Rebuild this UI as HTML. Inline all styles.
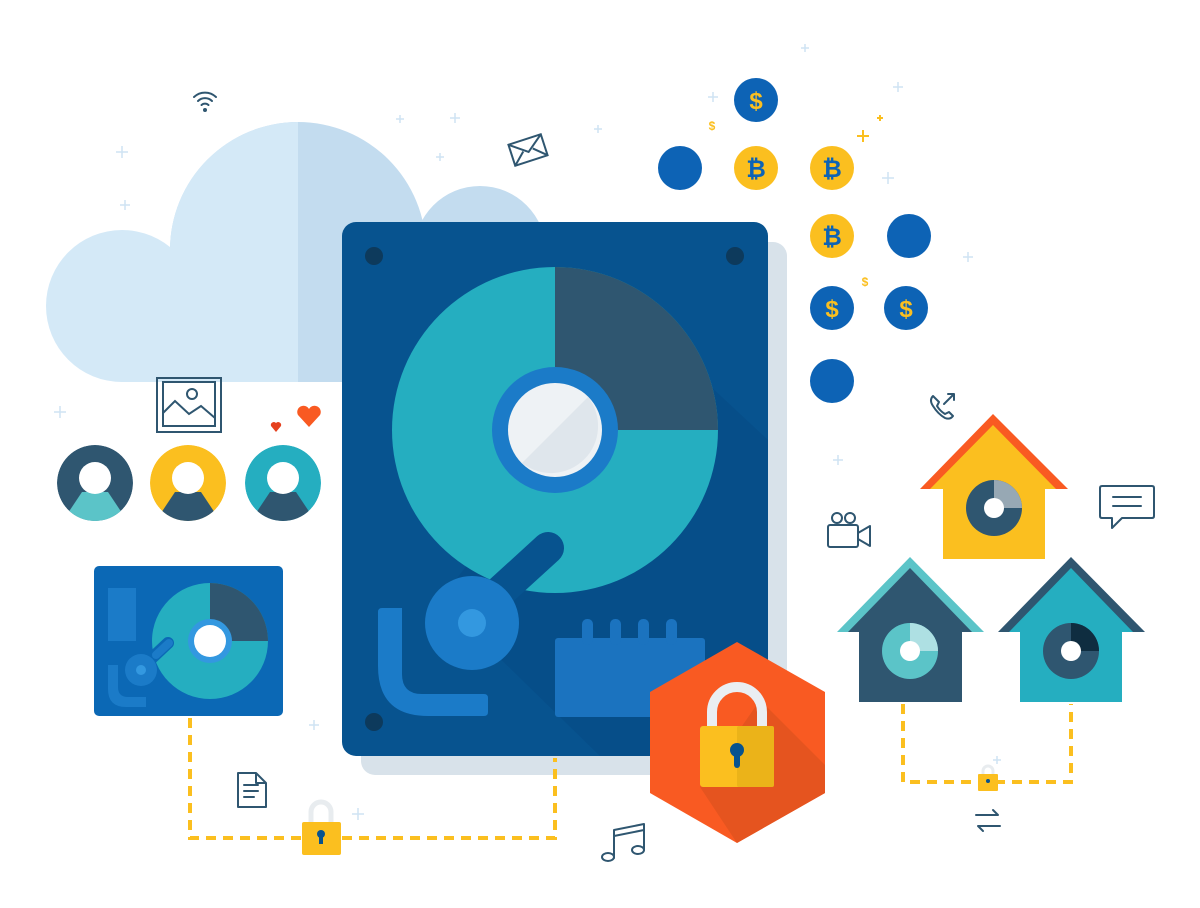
<!DOCTYPE html>
<html><head><meta charset="utf-8"><style>html,body{margin:0;padding:0;background:#fff}svg{display:block}</style></head>
<body>
<svg width="1200" height="908" viewBox="0 0 1200 908" xmlns="http://www.w3.org/2000/svg" font-family="Liberation Sans, sans-serif">
<defs>
<clipPath id="cl"><rect x="0" y="0" width="298" height="400"/></clipPath>
<clipPath id="cb"><rect x="0" y="0" width="1200" height="382"/></clipPath>
<clipPath id="a1"><circle cx="95" cy="483" r="38"/></clipPath>
<clipPath id="a2"><circle cx="188" cy="483" r="38"/></clipPath>
<clipPath id="a3"><circle cx="283" cy="483" r="38"/></clipPath>
<clipPath id="hdd"><rect x="342" y="222" width="426" height="534" rx="14"/></clipPath>
<clipPath id="hex"><polygon points="737,642 825,692 825,793 737,843 650,793 650,692"/></clipPath>
</defs>
<g stroke="#cfe3f3" stroke-width="1.5">
<path d="M122 146v12M116 152h12M125 200v10M120 205h10M400 115v8M396 119h8M455 113v10M450 118h10M598 125v8M594 129h8M713 92v10M708 97h10M805 44v8M801 48h8M898 82v10M893 87h10M888 172v12M882 178h12M968 252v10M963 257h10M838 455v10M833 460h10M60 406v12M54 412h12M314 720v10M309 725h10M358 808v12M352 814h12M997 756v8M993 760h8M440 153v8M436 157h8"/>
</g>
<g clip-path="url(#cb)">
<g fill="#c3dcef">
<circle cx="298" cy="250" r="128"/><circle cx="480" cy="252" r="66"/><rect x="120" y="252" width="430" height="130" rx="10"/>
</g>
<g fill="#d4e9f7" clip-path="url(#cl)">
<circle cx="298" cy="250" r="128"/><circle cx="122" cy="306" r="76"/><rect x="122" y="252" width="300" height="130"/>
</g>
</g>
<rect x="361" y="242" width="426" height="533" rx="14" fill="#d8e2ea"/>
<rect x="342" y="222" width="426" height="534" rx="14" fill="#07538f"/>
<g clip-path="url(#hdd)">
<polygon points="650,330 768,440 768,756 600,756 440,600" fill="#064b85" opacity="0.6"/>
</g>
<circle cx="374" cy="256" r="9" fill="#0d3a5c"/><circle cx="735" cy="256" r="9" fill="#0d3a5c"/><circle cx="374" cy="722" r="9" fill="#0d3a5c"/>
<circle cx="555" cy="430" r="163" fill="#25aec0"/>
<path d="M555 430 L555 267 A163 163 0 0 1 718 430 Z" fill="#2f5670"/>
<circle cx="555" cy="430" r="63" fill="#1b7bc8"/>
<circle cx="555" cy="430" r="47" fill="#eef2f5"/>
<path d="M588 397 A47 47 0 0 1 522 463 Z" fill="#dfe6ec"/>
<line x1="548" y1="548" x2="480" y2="610" stroke="#07538f" stroke-width="32" stroke-linecap="round"/>
<path d="M378 612 q0-4 4-4 h20 v66 q0 20 20 20 h62 q4 0 4 4 v14 q0 4 -4 4 h-56 q-50 0 -50 -50 z" fill="#1b7bc8"/>
<circle cx="472" cy="623" r="47" fill="#1b7bc8"/>
<circle cx="472" cy="623" r="14" fill="#3398e0"/>
<g fill="#1b73bf">
<rect x="555" y="638" width="150" height="79" rx="3"/>
<rect x="582" y="619" width="11" height="26" rx="5"/><rect x="610" y="619" width="11" height="26" rx="5"/><rect x="638" y="619" width="11" height="26" rx="5"/><rect x="666" y="619" width="11" height="26" rx="5"/>
</g>
<g fill="none" stroke="#fbbf1f" stroke-width="4" stroke-dasharray="10 7">
<path d="M190 718 V838 H555 V758"/>
<path d="M903 704 V782 H1071 V704"/>
</g>
<polygon points="737,642 825,692 825,793 737,843 650,793 650,692" fill="#f95a22"/>
<g clip-path="url(#hex)"><polygon points="760,700 840,780 830,900 737,843 700,787" fill="#e5541f"/></g>
<path d="M712 726 V712 a25 25 0 0 1 50 0 V726" fill="none" stroke="#eaeef2" stroke-width="10"/>
<rect x="700" y="726" width="74" height="61" rx="3" fill="#fbbf1f"/>
<rect x="737" y="726" width="37" height="61" rx="2" fill="#ebb319"/>
<circle cx="737" cy="750" r="7" fill="#07538f"/><rect x="734" y="752" width="6" height="16" rx="3" fill="#07538f"/>
<path d="M311 824 V812 a10 10 0 0 1 20 0 V824" fill="none" stroke="#e8ecef" stroke-width="5"/>
<rect x="302" y="822" width="39" height="33" rx="2" fill="#fbbf1f"/>
<circle cx="321" cy="834" r="4" fill="#07538f"/><rect x="319" y="835" width="4" height="9" fill="#07538f"/>
<path d="M983 775 v-4 a5 5 0 0 1 10 0 v4" fill="none" stroke="#e8ecef" stroke-width="3"/>
<rect x="978" y="774" width="20" height="17" rx="1" fill="#fbbf1f"/><circle cx="988" cy="781" r="2" fill="#07538f"/>
<rect x="94" y="566" width="189" height="150" rx="5" fill="#0b68b5"/>
<rect x="108" y="588" width="28" height="53" fill="#1b7bc8"/>
<circle cx="210" cy="641" r="58" fill="#25aec0"/>
<path d="M210 641 V583 A58 58 0 0 1 268 641 Z" fill="#2f5670"/>
<circle cx="210" cy="641" r="22" fill="#3398e0"/><circle cx="210" cy="641" r="16" fill="#fff"/>
<line x1="168" y1="643" x2="152" y2="658" stroke="#0b68b5" stroke-width="12" stroke-linecap="round"/>
<line x1="169" y1="643" x2="156" y2="655" stroke="#1b7bc8" stroke-width="8" stroke-linecap="round"/>
<path d="M108 665 h10 v22 q0 10 10 10 h18 v10 h-20 q-18 0 -18 -18z" fill="#1b7bc8"/>
<circle cx="141" cy="670" r="16" fill="#1b7bc8"/><circle cx="141" cy="670" r="5" fill="#3398e0"/>
<g clip-path="url(#a1)"><circle cx="95" cy="483" r="38" fill="#2f5670"/><polygon points="82,492 108,492 140,540 50,540" fill="#5bc4c8"/></g>
<circle cx="95" cy="478" r="16" fill="#fff"/>
<g clip-path="url(#a2)"><circle cx="188" cy="483" r="38" fill="#fbbf1f"/><polygon points="175,492 201,492 233,540 143,540" fill="#2f5670"/></g>
<circle cx="188" cy="478" r="16" fill="#fff"/>
<g clip-path="url(#a3)"><circle cx="283" cy="483" r="38" fill="#25aec0"/><polygon points="270,492 296,492 328,540 238,540" fill="#2f5670"/></g>
<circle cx="283" cy="478" r="16" fill="#fff"/>
<rect x="157" y="378" width="64" height="54" fill="none" stroke="#2f5670" stroke-width="2"/>
<rect x="163" y="382" width="52" height="44" fill="#fff" stroke="#2f5670" stroke-width="2"/>
<circle cx="192" cy="394" r="5" fill="none" stroke="#2f5670" stroke-width="2"/>
<path d="M163 413 l12-12 14 13 12-8 14 12" fill="none" stroke="#2f5670" stroke-width="2"/>
<path d="M309 427 l-11-12 a6 6 0 0 1 11-6 a6 6 0 0 1 11 6z" fill="#f95a22"/>
<path d="M276 432 l-5-6 a3 3 0 0 1 5-3 a3 3 0 0 1 5 3z" fill="#e5411f"/>
<g fill="none" stroke="#2f5670" stroke-width="2" stroke-linecap="round">
<path d="M194 97 a16 16 0 0 1 22 0M198 101 a10 10 0 0 1 14 0M201.5 105 a5 5 0 0 1 7 0"/>
</g><circle cx="205" cy="110" r="2" fill="#2f5670"/>
<g transform="rotate(-18 528 150)" fill="none" stroke="#2f5670" stroke-width="2">
<rect x="511" y="139" width="34" height="22"/><path d="M511 139 l17 13 17-13M511 161 l12-11M545 161 l-12-11"/></g>
<g fill="#0d63b5"><circle cx="756" cy="100" r="22"/><circle cx="680" cy="168" r="22"/><circle cx="909" cy="236" r="22"/><circle cx="832" cy="308" r="22"/><circle cx="906" cy="308" r="22"/><circle cx="832" cy="381" r="22"/></g>
<g fill="#fbbf1f"><circle cx="756" cy="168" r="22"/><circle cx="832" cy="168" r="22"/><circle cx="832" cy="236" r="22"/></g>
<g font-weight="bold" font-size="24" text-anchor="middle">
<text x="756" y="109" fill="#fbbf1f">$</text><text x="832" y="317" fill="#fbbf1f">$</text><text x="906" y="317" fill="#fbbf1f">$</text>
<text x="756" y="177" fill="#0d63b5">₿</text><text x="832" y="177" fill="#0d63b5">₿</text><text x="832" y="245" fill="#0d63b5">₿</text>
</g>
<g fill="#fbbf1f" font-size="12" font-weight="bold" text-anchor="middle"><text x="712" y="130">$</text><text x="865" y="286">$</text></g>
<g stroke="#fbbf1f" stroke-width="2"><path d="M863 130v12M857 136h12M880 115v6M877 118h6"/></g>
<polygon points="993,414 1068,489 920,489" fill="#f95a22"/>
<polygon points="993,425 1056,489 930,489" fill="#fbbf1f"/>
<rect x="943" y="488" width="102" height="71" fill="#fbbf1f"/>
<circle cx="994" cy="508" r="28" fill="#2f5670"/><path d="M994 508 V480 A28 28 0 0 1 1022 508Z" fill="#97a8b4"/><circle cx="994" cy="508" r="10" fill="#fff"/>
<polygon points="910,557 984,632 837,632" fill="#5bc4c8"/>
<polygon points="910,568 972,632 848,632" fill="#2f5670"/>
<rect x="859" y="631" width="103" height="71" fill="#2f5670"/>
<circle cx="910" cy="651" r="28" fill="#5bc4c8"/><path d="M910 651 V623 A28 28 0 0 1 938 651Z" fill="#aee0e3"/><circle cx="910" cy="651" r="10" fill="#fff"/>
<polygon points="1071,557 1145,632 998,632" fill="#2f5670"/>
<polygon points="1071,568 1133,632 1009,632" fill="#25aec0"/>
<rect x="1020" y="631" width="102" height="71" fill="#25aec0"/>
<circle cx="1071" cy="651" r="28" fill="#2f5670"/><path d="M1071 651 V623 A28 28 0 0 1 1099 651Z" fill="#0f2d40"/><circle cx="1071" cy="651" r="10" fill="#fff"/>
<g fill="none" stroke="#2f5670" stroke-width="2" stroke-linejoin="round" stroke-linecap="round">
<path d="M933 396 q-4 4 0 10 q5 8 12 12 q5 2 8-2 l-4-4 l-4 2 q-5-3-8-8 l2-4z"/>
<path d="M944 404 l10-10 M948 394 h6 v6"/>
<circle cx="837" cy="518" r="5"/><circle cx="850" cy="518" r="5"/>
<rect x="828" y="525" width="30" height="22" rx="2"/><path d="M858 533 l12-7 v20 l-12-7"/>
<path d="M1102 486 h50 q2 0 2 2 v28 q0 2-2 2 h-30 l-10 10 v-10 h-10 q-2 0-2-2 v-28 q0-2 2-2z"/>
<path d="M1113 497 h28 M1113 506 h28"/>
<path d="M238 773 h18 l10 10 v24 h-28z M256 773 v10 h10 M244 785 h14 M244 791 h14 M244 797 h10"/>
<path d="M614 858 v-28 l30-6 v26 M614 836 l30-6"/>
<ellipse cx="608" cy="857" rx="6" ry="4"/><ellipse cx="638" cy="850" rx="6" ry="4"/>
<path d="M976 815 h22 l-5-5 M1000 826 h-22 l5 5"/>
</g>
</svg>
</body></html>
